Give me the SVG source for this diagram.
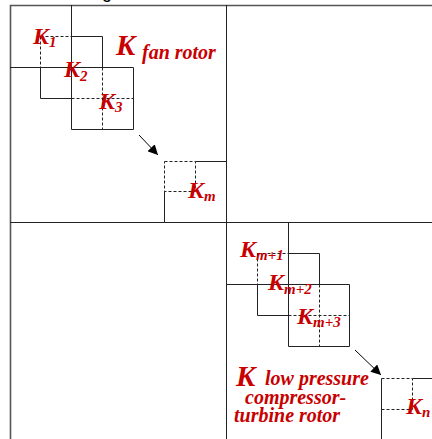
<svg xmlns="http://www.w3.org/2000/svg" width="432" height="439" viewBox="0 0 432 439">
<style>
.s{stroke:#222;stroke-width:1;fill:none}
.f{stroke:#555;stroke-width:1.6;fill:none}
.d{stroke:#222;stroke-width:1;fill:none;stroke-dasharray:3,2}
.k{font-family:"Liberation Serif","Times New Roman",serif;font-weight:bold;font-style:italic;fill:#c80000}
.a{stroke:#000;stroke-width:1;fill:none}
</style>
<defs>
<marker id="ah" viewBox="0 0 10 10" refX="10" refY="5" markerWidth="10" markerHeight="10" markerUnits="userSpaceOnUse" orient="auto">
<path d="M0,0 L10,5 L0,10 z" fill="#000"/>
</marker>
</defs>
<rect width="432" height="439" fill="#fff"/>
<text x="102" y="-2" font-family="Liberation Sans, Arial, sans-serif" font-size="18" fill="#000">g</text>
<g id="frame">
<path class="f" d="M10.5,439 V5.5 H432"/>
<path class="s" d="M226.5,5 V439 M10 222.5 H432"/>
</g>
<g id="fan-rotor">
<path class="s" d="M71.5,5 V129.5 M10,67.5 H133.5"/>
<path class="d" d="M40.5,36.5 V67.5 M40.5,36.5 H71.5 M102.5,67.5 V129.5 M71.5,98.5 H133.5"/>
<path class="s" d="M40.5,67.5 V98.5 H71.5 M71.5,36.5 H102.5 V67.5 M133.5,67.5 V129.5 H71.5"/>
<text class="k" x="33" y="44" font-size="24">K<tspan font-size="15" dy="3">1</tspan></text>
<text class="k" x="64" y="77" font-size="24">K<tspan font-size="15" dy="4">2</tspan></text>
<text class="k" x="99" y="109" font-size="24">K<tspan font-size="15" dy="3">3</tspan></text>
<text class="k" x="116" y="55" font-size="29">K</text>
<text class="k" x="142" y="59" font-size="20">fan rotor</text>
</g>
<g id="km">
<path class="d" d="M164.5,161.5 H195.5 V191.5 H164.5 V161.5"/>
<path class="s" d="M195.5,161.5 H226.5 M164.5,191.5 V222.5"/>
<text class="k" x="188" y="198" font-size="24">K<tspan font-size="15" dy="3">m</tspan></text>
</g>
<g id="lp-rotor">
<path class="s" d="M288.5,222.5 V346.5 M226,284.5 H349.5"/>
<path class="d" d="M257.5,253.5 V284.5 M257.5,253.5 H288.5 M319.5,284.5 V346.5 M288.5,315.5 H349.5"/>
<path class="s" d="M257.5,284.5 V315.5 H288.5 M288.5,253.5 H319.5 V284.5 M349.5,284.5 V346.5 H288.5"/>
<text class="k" x="240" y="257" font-size="24">K<tspan font-size="15" dy="3">m+1</tspan></text>
<text class="k" x="268" y="290" font-size="24">K<tspan font-size="15" dy="4">m+2</tspan></text>
<text class="k" x="297" y="324" font-size="24">K<tspan font-size="15" dy="3">m+3</tspan></text>
<text class="k" x="236" y="386" font-size="29">K</text>
<text class="k" x="265" y="385" font-size="20">low pressure</text>
<text class="k" x="245" y="404" font-size="20">compressor-</text>
<text class="k" x="234" y="422" font-size="20">turbine rotor</text>
</g>
<g id="kn">
<path class="d" d="M381.5,378.5 H412.5 V409.5 H381.5"/>
<path class="s" d="M412.5,378.5 H432 M381.5,378.5 V439"/>
<text class="k" x="406" y="414" font-size="24">K<tspan font-size="15" dy="3">n</tspan></text>
</g>
<g id="connectors">
<line class="a" x1="139" y1="135" x2="158" y2="155" marker-end="url(#ah)"/>
<line class="a" x1="355" y1="350" x2="381" y2="375" marker-end="url(#ah)"/>
</g>
</svg>
